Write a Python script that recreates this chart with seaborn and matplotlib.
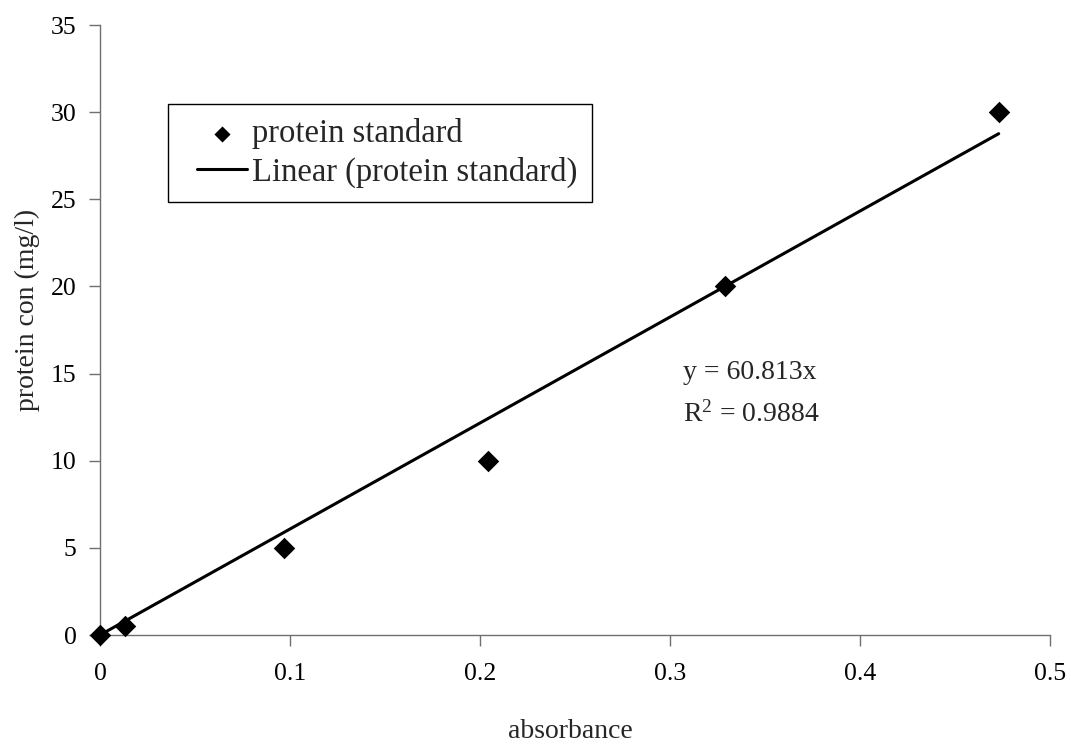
import matplotlib
matplotlib.use("Agg")
import matplotlib.pyplot as plt
from matplotlib.lines import Line2D
from matplotlib.collections import PathCollection
from matplotlib.legend_handler import HandlerLine2D, HandlerPathCollection
import seaborn as sns
import numpy as np
import pandas as pd

absorbance = [0.0, 0.013, 0.097, 0.204, 0.329, 0.473]
protein_con = [0.0, 0.5, 5.0, 10.0, 20.0, 30.0]
slope = 60.813
r_squared = 0.9884
x_ticks = [0, 0.1, 0.2, 0.3, 0.4, 0.5]
y_ticks = [0, 5, 10, 15, 20, 25, 30, 35]

sns.set_style("white")
plt.rcParams['font.family'] = ['Liberation Serif', 'DejaVu Serif']
plt.rcParams['mathtext.fontset'] = 'custom'
plt.rcParams['mathtext.rm'] = 'Liberation Serif'
plt.rcParams['mathtext.it'] = 'Liberation Serif'

df = pd.DataFrame({"absorbance": absorbance, "protein": protein_con})
trend = pd.DataFrame({"x": [0.0, max(absorbance)]})
trend["y"] = slope * trend["x"]

fig = plt.figure(figsize=(10.71, 7.46), dpi=100)
ax = fig.add_axes([100/1071, 111/746, 950/1071, 610/746])

sns.lineplot(data=trend, x="x", y="y", ax=ax, color="black", linewidth=2.2,
             label="Linear (protein standard)", zorder=2)
sns.scatterplot(data=df, x="absorbance", y="protein", ax=ax, marker="D",
                color="black", s=120, edgecolor="black", linewidth=0,
                label="protein standard", zorder=3, clip_on=False)

ax.set_xlim(0, 0.5)
ax.set_ylim(0, 35)
ax.set_xticks(x_ticks)
ax.set_xticklabels([f"{t:g}" for t in x_ticks])
ax.set_yticks(y_ticks)
ax.tick_params(axis='both', which='major', bottom=True, left=True,
               direction='out', length=8, width=1, color='#707070',
               labelsize=18.5, labelcolor='black')
ax.tick_params(axis='x', pad=12)
ax.tick_params(axis='y', pad=9)
for s in ['top', 'right']:
    ax.spines[s].set_visible(False)
for s in ['left', 'bottom']:
    ax.spines[s].set_color('#707070')
    ax.spines[s].set_linewidth(1)

ax.set_xlabel("absorbance", fontsize=20)
ax.set_ylabel("protein con (mg/l)", fontsize=20)
ax.xaxis.set_label_coords(0.495, -0.159)
ax.xaxis.label.set_va('center')
ax.yaxis.set_label_coords(-0.0768, 0.533)
ax.yaxis.label.set_va('center')

ax.text(0.307, 14.69, "y = 60.813x", fontsize=20, va='baseline', ha='left')
ax.text(0.307, 12.22, "R$^{2}$ = 0.9884", fontsize=20, va='baseline', ha='left')

handles, labels = ax.get_legend_handles_labels()
order = [labels.index("protein standard"), labels.index("Linear (protein standard)")]
leg = ax.legend([handles[i] for i in order], [labels[i] for i in order],
                loc='upper left', bbox_to_anchor=(0.0716, 0.870), borderaxespad=0,
                fontsize=23.5, frameon=True, fancybox=False, edgecolor='black',
                framealpha=1, handlelength=2.0, handletextpad=0.15,
                borderpad=0.43, labelspacing=0.22, markerscale=0.75,
                handler_map={Line2D: HandlerLine2D(xpad=0.45),
                             PathCollection: HandlerPathCollection(xpad=0.45)})
leg.get_frame().set_linewidth(1)

fig.savefig("out.png", dpi=100)
